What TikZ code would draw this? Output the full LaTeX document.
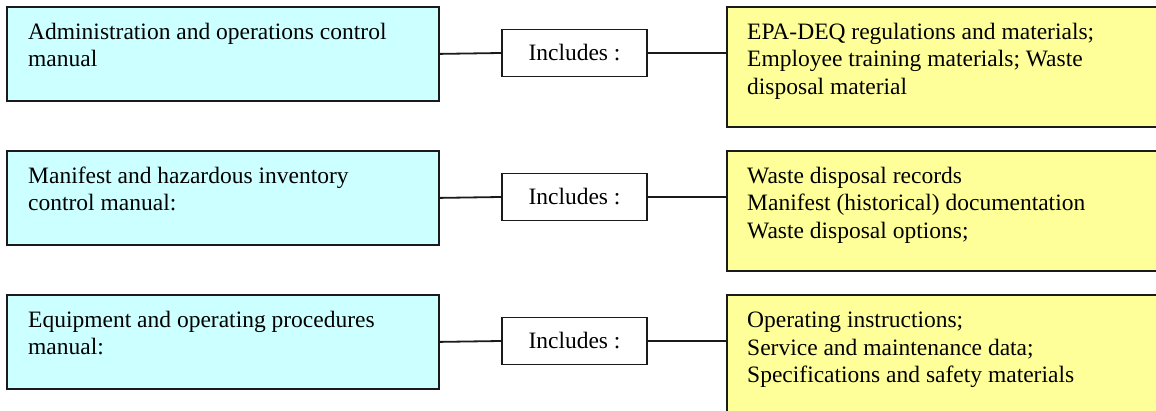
\documentclass[tikz,border=0pt]{standalone}
\usepackage{fontspec}
\setmainfont{Liberation Serif}
\definecolor{manualfill}{HTML}{CCFFFF}
\definecolor{contentfill}{HTML}{FFFF99}
\definecolor{edge}{HTML}{1A1A1A}
\begin{document}
\begin{tikzpicture}[x=1pt,y=-1pt,
  every node/.style={font=\fontsize{23.5}{27.8}\selectfont},
  manualbox/.style={draw=edge,line width=1.8pt,fill=manualfill,minimum width=432pt,minimum height=94pt,inner sep=0pt,anchor=north west},
  contentbox/.style={draw=edge,line width=1.8pt,fill=contentfill,minimum width=460pt,minimum height=120pt,inner sep=0pt,anchor=north west},
  includebox/.style={draw=edge,line width=1.8pt,fill=white,minimum width=145pt,minimum height=47pt,inner sep=0pt},
  boxtext/.style={anchor=north west,inner sep=0pt,align=left},
  link/.style={draw=edge,line width=1.8pt}]
\useasboundingbox (0,0) rectangle (1156,411);
\clip (0,0) rectangle (1156,411);
\fill[white] (0,0) rectangle (1156,411);

% left column: the three manuals
\node[manualbox] (m1) at (6,6) {};
\node[manualbox] (m2) at (6,150) {};
\node[manualbox] (m3) at (6,294) {};
\node[boxtext] (m1t) at (28,21) {\rule{0pt}{18pt}Administration and operations control\\manual};
\node[boxtext] (m2t) at (28,165) {\rule{0pt}{18pt}Manifest and hazardous inventory\\control manual:};
\node[boxtext] (m3t) at (28,309) {\rule{0pt}{18pt}Equipment and operating procedures\\manual:};

% middle column
\node[includebox] (i1) at (574.5,53) {Includes :};
\node[includebox] (i2) at (574.5,197) {Includes :};
\node[includebox] (i3) at (574.5,341) {Includes :};

% right column: contents of each manual
\node[contentbox] (c1) at (726,6) {};
\node[contentbox] (c2) at (726,150) {};
\node[contentbox] (c3) at (726,294) {};
\node[boxtext] (c1t) at (747,21) {\rule{0pt}{18pt}EPA-DEQ regulations and materials;\\Employee training materials; Waste\\disposal material};
\node[boxtext] (c2t) at (747,165) {\rule{0pt}{18pt}Waste disposal records\\Manifest (historical) documentation\\Waste disposal options;};
\node[boxtext] (c3t) at (747,309) {\rule{0pt}{18pt}Operating instructions;\\Service and maintenance data;\\Specifications and safety materials};

% connectors
\foreach \k in {1,2,3} {
  \draw[link] (m\k.east) -- (i\k.west);
  \draw[link] (i\k.east) -- (i\k.east -| c\k.west);
}
\end{tikzpicture}
\end{document}
